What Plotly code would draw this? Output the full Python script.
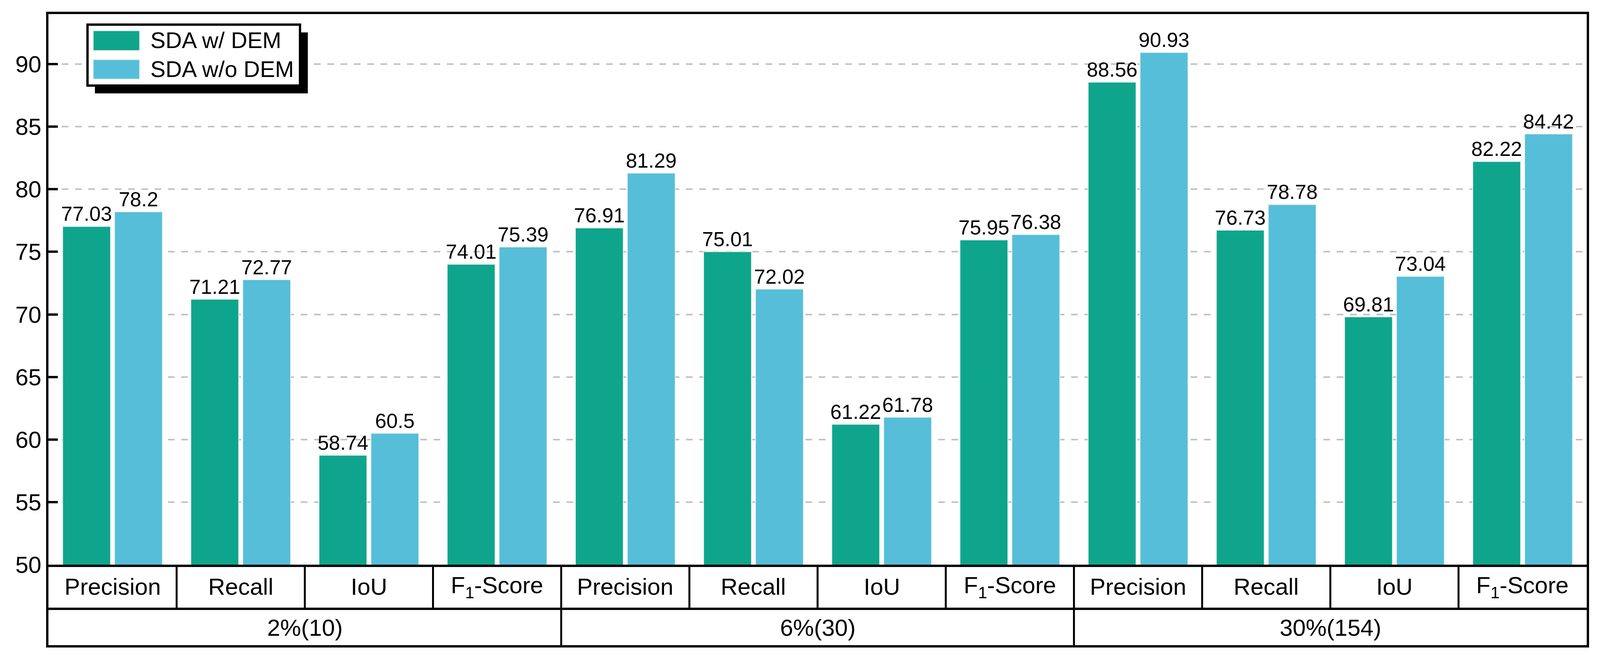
import plotly.graph_objects as go

# ---------------- data ----------------
groups = ["2%(10)", "6%(30)", "30%(154)"]
metrics = ["Precision", "Recall", "IoU", "F<sub>1</sub>-Score"]
series_names = ["SDA w/ DEM", "SDA w/o DEM"]
with_dem = [77.03, 71.21, 58.74, 74.01, 76.91, 75.01, 61.22, 75.95, 88.56, 76.73, 69.81, 82.22]
without_dem = [78.2, 72.77, 60.5, 75.39, 81.29, 72.02, 61.78, 76.38, 90.93, 78.78, 73.04, 84.42]
y_ticks = [50, 55, 60, 65, 70, 75, 80, 85, 90]

# ---------------- style ----------------
W, H = 4364, 1689
ML, MR, MT, MB = 124, 34, 36, 244
ROW1, ROW2 = 113, 96
FONT = "Liberation Sans, Arial, sans-serif"
GREEN = "#0FA58C"
BLUE = "#56BED8"
colors = [GREEN, BLUE]
LW = 6

n_cat = len(groups) * len(metrics)
xs = list(range(n_cat))

fig = go.Figure()
for name, vals, col in zip(series_names, [with_dem, without_dem], colors):
    fig.add_trace(go.Bar(
        x=xs, y=vals, name=name,
        marker=dict(color=col, line=dict(color="#eef6f6", width=2)),
        text=[str(v) for v in vals], textposition="outside",
        textfont=dict(family=FONT, size=52, color="black"),
        constraintext="none", cliponaxis=False, showlegend=False,
    ))

shapes = []
annotations = []


def hline_px(yoff, width=LW):
    # horizontal line across the plot width, yoff pixels below the x axis
    return dict(type="line", xref="paper", x0=0, x1=1,
                yref="paper", ysizemode="pixel", yanchor=0, y0=-yoff, y1=-yoff,
                line=dict(color="black", width=width))


# table outer verticals (aligned with the axis lines)
for xa, dx in ((0, -3), (1, 3)):
    shapes.append(dict(type="line", xref="paper", xsizemode="pixel", xanchor=xa, x0=dx, x1=dx,
                       yref="paper", ysizemode="pixel", yanchor=0, y0=0, y1=-(ROW1 + ROW2 + 3),
                       line=dict(color="black", width=LW)))
shapes.append(hline_px(ROW1))
shapes.append(hline_px(ROW1 + ROW2))
# row-1 separators between metrics
for i in range(n_cat - 1):
    shapes.append(dict(type="line", xref="x", x0=i + 0.5, x1=i + 0.5,
                       yref="paper", ysizemode="pixel", yanchor=0, y0=0, y1=-ROW1,
                       line=dict(color="black", width=5)))
# row-2 separators between groups
for g in range(1, len(groups)):
    xv = g * len(metrics) - 0.5
    shapes.append(dict(type="line", xref="x", x0=xv, x1=xv,
                       yref="paper", ysizemode="pixel", yanchor=0, y0=-ROW1, y1=-(ROW1 + ROW2),
                       line=dict(color="black", width=5)))


def rect_px(x0, x1, y0, y1, **kw):
    # rectangle in pixels measured from the plot's top-left corner (y downwards)
    d = dict(type="rect", xref="paper", xsizemode="pixel", xanchor=0, x0=x0, x1=x1,
             yref="paper", ysizemode="pixel", yanchor=1, y0=-y0, y1=-y1, layer="above")
    d.update(kw)
    return d


# legend (drawn manually for the large swatches + drop shadow)
shapes.append(rect_px(119, 664, 47, 203, fillcolor="black", line=dict(width=0)))
shapes.append(rect_px(100, 644, 27, 183, fillcolor="white", line=dict(color="black", width=6)))
legend_rows = [(42, 94, 66), (116, 167, 140)]
for (t, b, c), col, name in zip(legend_rows, colors, series_names):
    shapes.append(rect_px(114, 234, t, b, fillcolor=col, line=dict(color="#eef6f6", width=3)))
    annotations.append(dict(xref="paper", yref="paper", x=0, y=1, xshift=259, yshift=-c,
                            text=name, showarrow=False, xanchor="left", yanchor="middle",
                            font=dict(family=FONT, size=58, color="black")))

# category labels (row 1) and group labels (row 2)
for gi, g in enumerate(groups):
    for mi, m in enumerate(metrics):
        annotations.append(dict(xref="x", yref="paper", x=gi * len(metrics) + mi, y=0,
                                yshift=-ROW1 / 2, text=m, showarrow=False,
                                xanchor="center", yanchor="middle",
                                font=dict(family=FONT, size=60, color="black")))
    annotations.append(dict(xref="x", yref="paper", x=gi * len(metrics) + (len(metrics) - 1) / 2,
                            y=0, yshift=-(ROW1 + ROW2 / 2), text=g, showarrow=False,
                            xanchor="center", yanchor="middle",
                            font=dict(family=FONT, size=60, color="black")))

fig.update_layout(
    width=W, height=H,
    margin=dict(l=ML, r=MR, t=MT, b=MB),
    paper_bgcolor="white", plot_bgcolor="white",
    barmode="group", bargap=0.19, bargroupgap=0.077,
    font=dict(family=FONT, size=60, color="black"),
    shapes=shapes, annotations=annotations,
    xaxis=dict(range=[-0.5, n_cat - 0.5], showticklabels=False, ticks="", showgrid=False,
               zeroline=False, showline=True, linecolor="black", linewidth=LW, mirror=True),
    yaxis=dict(range=[50, 94], tickvals=y_ticks, ticks="inside", ticklen=24, tickwidth=6,
               tickcolor="black", showline=True, linecolor="black", linewidth=LW, mirror=True,
               showgrid=True, gridcolor="#c2c2c2", gridwidth=4, griddash="17px,17px",
               zeroline=False, tickfont=dict(family=FONT, size=60, color="black")),
)

# fit the figure to the actual browser viewport so nothing is cut off
post_js = """
var gd = document.getElementById('{plot_id}');
document.documentElement.style.margin = '0';
document.body.style.margin = '0';
document.body.style.overflow = 'hidden';
var w = window.innerWidth, h = window.innerHeight;
if (w > 200 && h > 200 && (w !== gd._fullLayout.width || h !== gd._fullLayout.height)) {
    Plotly.relayout(gd, {width: w, height: h});
}
"""

fig.write_html("out.html", post_script=post_js, config={"displayModeBar": False})
